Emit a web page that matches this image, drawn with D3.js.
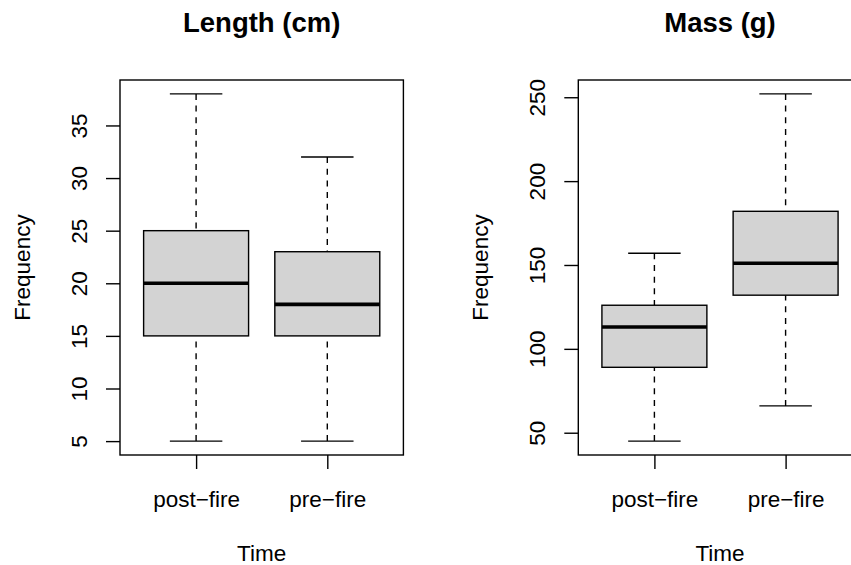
<!DOCTYPE html>
<html>
<head>
<meta charset="utf-8">
<script src="https://cdn.jsdelivr.net/npm/d3@7/dist/d3.min.js"></script>
<style>
  html, body { margin: 0; padding: 0; background: #fff; }
  svg { display: block; font-family: "Liberation Sans", Arial, Helvetica, sans-serif; }
</style>
</head>
<body>
<svg class="boxplot-chart" width="851" height="565"></svg>
<script>
(function BoxplotChartModule() {

  'use strict';

  // data
  var groups = ['post\u2212fire', 'pre\u2212fire'];

  // [lower whisker, Q1, median, Q3, upper whisker]
  var lengthStats = [
    [5, 15, 20, 25, 38],
    [5, 15, 18, 23, 32]
  ];
  var massStats = [
    [45, 89, 113, 126, 157],
    [66, 132, 151, 182, 252]
  ];

  var lengthTicks = [5, 10, 15, 20, 25, 30, 35];
  var massTicks = [50, 100, 150, 200, 250];

  var titles = ['Length (cm)', 'Mass (g)'];
  var xTitle = 'Time';
  var yTitle = 'Frequency';

  // vars
  var _svg,
    _plotTop = 80,
    _plotBottom = 455,
    _plotWidth = 283.4,
    _tickSize = 14,
    _lineWidth = 1.4;

  activate();

  function activate() {
    _svg = d3.select('.boxplot-chart');

    renderPanel(120, titles[0], lengthStats, lengthTicks);
    renderPanel(578.3, titles[1], massStats, massTicks);
  }

  function renderPanel(left, title, stats, ticks) {
    var lo = d3.min(stats, function (s) { return s[0]; });
    var hi = d3.max(stats, function (s) { return s[4]; });
    var pad = (hi - lo) * 0.04;

    var x = d3.scaleLinear()
      .domain([0.42, 2.58])
      .range([left, left + _plotWidth]);

    var y = d3.scaleLinear()
      .domain([lo - pad, hi + pad])
      .range([_plotBottom, _plotTop]);

    var g = _svg.append('g');

    // boxes
    var box = g.selectAll('g.box')
      .data(stats)
      .enter()
      .append('g')
      .attr('class', 'box');

    // whiskers (dashed) from quartiles to caps
    box.append('line')
      .attr('x1', function (d, i) { return x(i + 1); })
      .attr('x2', function (d, i) { return x(i + 1); })
      .attr('y1', function (d) { return y(d[4]); })
      .attr('y2', function (d) { return y(d[3]); })
      .attr('stroke', '#000')
      .attr('stroke-width', _lineWidth)
      .attr('stroke-dasharray', '6,5.7');

    box.append('line')
      .attr('x1', function (d, i) { return x(i + 1); })
      .attr('x2', function (d, i) { return x(i + 1); })
      .attr('y1', function (d) { return y(d[0]); })
      .attr('y2', function (d) { return y(d[1]); })
      .attr('stroke', '#000')
      .attr('stroke-width', _lineWidth)
      .attr('stroke-dasharray', '6,5.7');

    // caps
    [0, 4].forEach(function (k) {
      box.append('line')
        .attr('x1', function (d, i) { return x(i + 1 - 0.2); })
        .attr('x2', function (d, i) { return x(i + 1 + 0.2); })
        .attr('y1', function (d) { return y(d[k]); })
        .attr('y2', function (d) { return y(d[k]); })
        .attr('stroke', '#000')
        .attr('stroke-width', _lineWidth);
    });

    box.append('rect')
      .attr('x', function (d, i) { return x(i + 1 - 0.4); })
      .attr('width', x(1.4) - x(0.6))
      .attr('y', function (d) { return y(d[3]); })
      .attr('height', function (d) { return y(d[1]) - y(d[3]); })
      .attr('fill', '#d3d3d3')
      .attr('stroke', '#000')
      .attr('stroke-width', _lineWidth);

    box.append('line')
      .attr('x1', function (d, i) { return x(i + 1 - 0.4); })
      .attr('x2', function (d, i) { return x(i + 1 + 0.4); })
      .attr('y1', function (d) { return y(d[2]); })
      .attr('y2', function (d) { return y(d[2]); })
      .attr('stroke', '#000')
      .attr('stroke-width', 3.6);

    // frame
    g.append('rect')
      .attr('x', left)
      .attr('y', _plotTop)
      .attr('width', _plotWidth)
      .attr('height', _plotBottom - _plotTop)
      .attr('fill', 'none')
      .attr('stroke', '#000')
      .attr('stroke-width', _lineWidth);

    // y axis
    var yAxis = g.append('g')
      .attr('transform', 'translate(' + left + ',0)')
      .call(d3.axisLeft(y).tickValues(ticks).tickSize(_tickSize).tickFormat(d3.format('d')));

    yAxis.select('.domain').remove();
    yAxis.selectAll('line').attr('stroke-width', _lineWidth);
    yAxis.selectAll('text')
      .attr('transform', 'rotate(-90)')
      .attr('x', 0)
      .attr('y', -33)
      .attr('dy', null)
      .attr('text-anchor', 'middle')
      .attr('fill', '#000')
      .style('font-size', '22.5px');

    // x axis
    var xAxis = g.append('g')
      .attr('transform', 'translate(0,' + _plotBottom + ')')
      .call(d3.axisBottom(x).tickValues([1, 2]).tickSize(_tickSize)
        .tickFormat(function (d) { return groups[d - 1]; }));

    xAxis.select('.domain').remove();
    xAxis.selectAll('line').attr('stroke-width', _lineWidth);
    xAxis.selectAll('text')
      .attr('y', 52)
      .attr('dy', null)
      .attr('fill', '#000')
      .style('font-size', '22.5px');

    // titles
    var cx = left + _plotWidth / 2;

    g.append('text')
      .attr('x', cx)
      .attr('y', 32)
      .attr('text-anchor', 'middle')
      .style('font-size', '27.5px')
      .style('font-weight', 'bold')
      .text(title);

    g.append('text')
      .attr('x', cx)
      .attr('y', _plotBottom + 106)
      .attr('text-anchor', 'middle')
      .style('font-size', '22.5px')
      .text(xTitle);

    g.append('text')
      .attr('transform', 'translate(' + (left - 90.5) + ',' + ((_plotTop + _plotBottom) / 2) + ') rotate(-90)')
      .attr('text-anchor', 'middle')
      .style('font-size', '22.5px')
      .text(yTitle);
  }

})();
</script>
</body>
</html>
